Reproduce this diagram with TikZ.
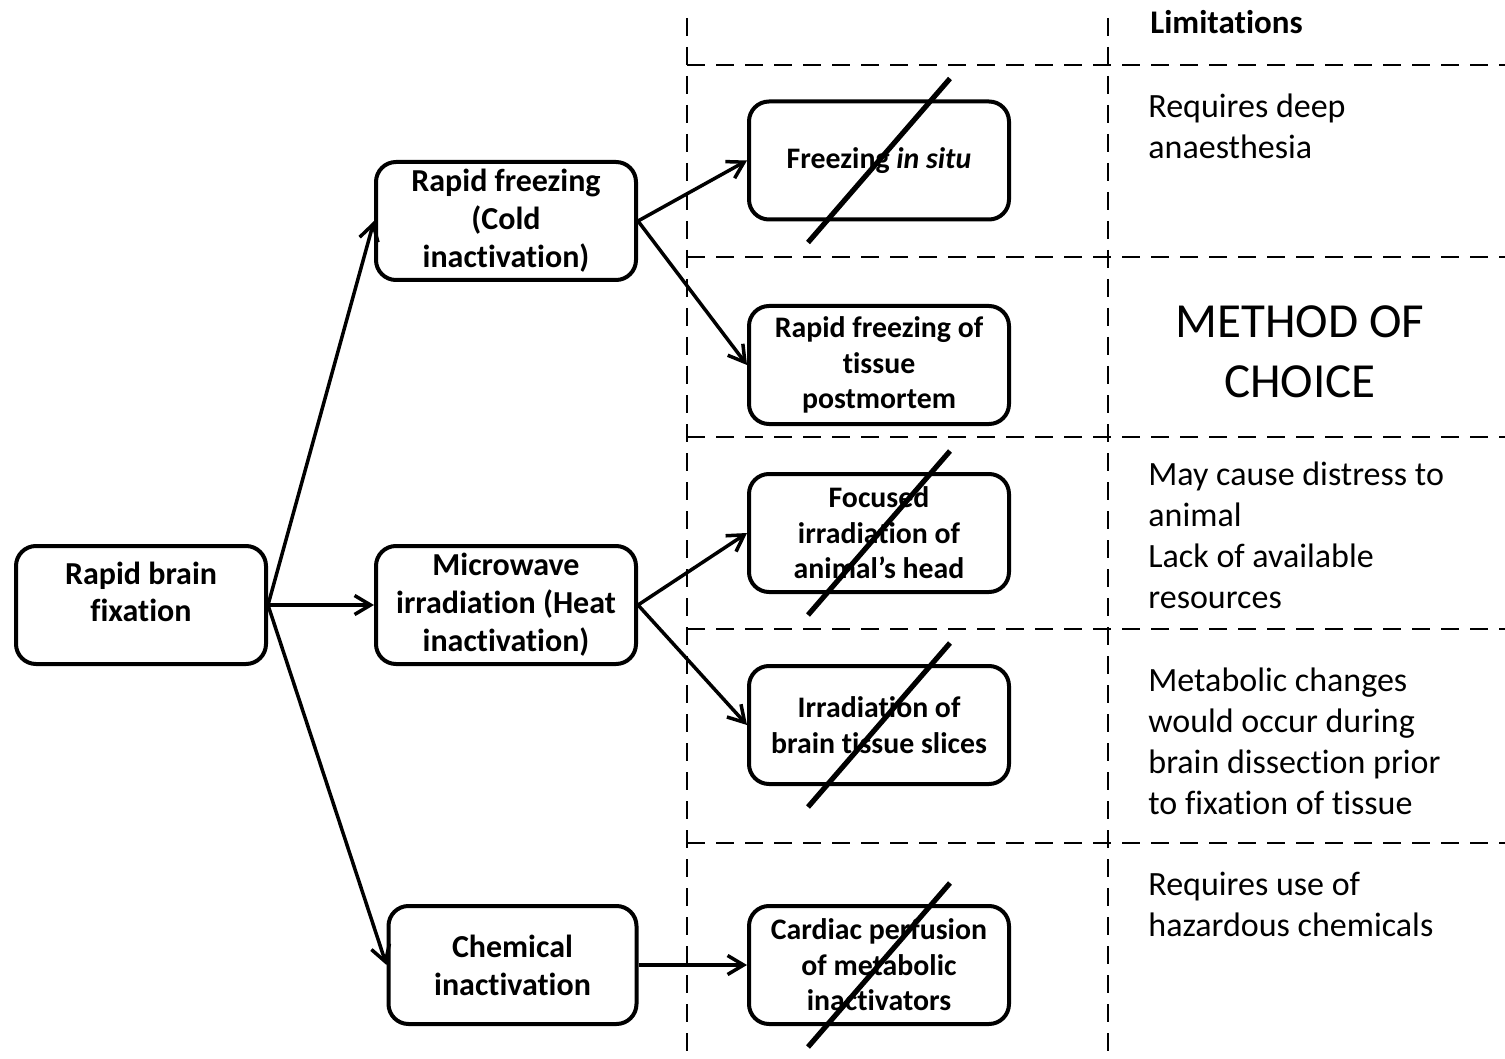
\documentclass[tikz,border=0pt]{standalone}
\usepackage{fontspec}
\setmainfont{Carlito}[Ligatures=NoCommon]
\usetikzlibrary{arrows.meta,calc}
\begin{document}
\begin{tikzpicture}[x=0.5pt,y=-0.5pt,
  frame/.style={line width=1.2pt, dash pattern=on 9pt off 5.5pt},
  boxbase/.style={draw, line width=2pt, rounded corners=10pt, align=center, inner sep=2pt},
  rootbox/.style={boxbase, minimum width=125pt, minimum height=59pt},
  levelone/.style={boxbase, minimum width=130pt, minimum height=59pt,
    font=\bfseries\fontsize{16}{19}\selectfont},
  leveltwo/.style={boxbase, minimum width=130pt, minimum height=59pt,
    font=\bfseries\fontsize{14.9}{17.75}\selectfont},
  rootfont/.style={align=center, font=\bfseries\fontsize{16}{18.5}\selectfont},
  note/.style={anchor=west, align=left, inner sep=0pt, font=\fontsize{17}{20.5}\selectfont},
  arr/.style={line width=1.75pt, -{Straight Barb[length=8pt,width=9.5pt]}},
  strike/.style={line width=2.6pt}
]
\useasboundingbox (0,0) rectangle (1505,1059);

% column frame
\draw[frame] (687,18) -- (687,1059);
\draw[frame] (1108,18) -- (1108,1059);
\foreach \yy in {65,257,437,629,843}
  \draw[frame] (687,\yy) -- (1505,\yy);

% boxes
\node[rootbox] (root) at (141,605) {};
\node[rootfont] (roottext) at (141,592) {Rapid brain\\fixation};

\node[levelone] (cold) at (506,221) {Rapid freezing\\(Cold\\inactivation)};
\node[levelone] (heat) at (506,605) {Microwave\\irradiation (Heat\\inactivation)};
\node[levelone, minimum width=124pt] (chem) at (512.5,965) {Chemical\\inactivation};

\node[leveltwo] (insitu) at (879,160.5) {Freezing \textit{in situ}};
\node[leveltwo] (post) at (879,365) {Rapid freezing of\\tissue\\postmortem};
\node[leveltwo] (head) at (879,533) {Focused\\irradiation of\\animal’s head};
\node[leveltwo] (slices) at (879,725) {Irradiation of\\brain tissue slices};
\node[leveltwo] (perf) at (879,965) {Cardiac perfusion\\of metabolic\\inactivators};

% connectors
\draw[arr] (root.east) -- (cold.west);
\draw[arr] (root.east) -- (heat.west);
\draw[arr] (root.east) -- (chem.west);
\draw[arr] (cold.east) -- (insitu.west);
\draw[arr] (cold.east) -- (post.west);
\draw[arr] (heat.east) -- (head.west);
\draw[arr] (heat.east) -- (slices.west);
\draw[arr] (chem.east) -- (perf.west);

% methods ruled out
\foreach \n in {insitu,head,slices,perf}
  \draw[strike] ($(\n.center)+(-71,82)$) -- ($(\n.center)+(71,-82)$);

% limitations column
\node[note, font=\bfseries\fontsize{16.5}{20}\selectfont] (limits) at (1150,22) {Limitations};
\node[note] (lim1) at (1148,126.5) {Requires deep\\anaesthesia};
\node[align=center, font=\fontsize{24.5}{30}\selectfont] (choice) at (1300,352) {METHOD OF\\CHOICE};
\node[note] (lim3) at (1148,535.5) {May cause distress to\\animal\\Lack of available\\resources};
\node[note] (lim4) at (1148,741.5) {Metabolic changes\\would occur during\\brain dissection prior\\to fixation of tissue};
\node[note] (lim5) at (1148,904.5) {Requires use of\\hazardous chemicals};
\end{tikzpicture}
\end{document}
